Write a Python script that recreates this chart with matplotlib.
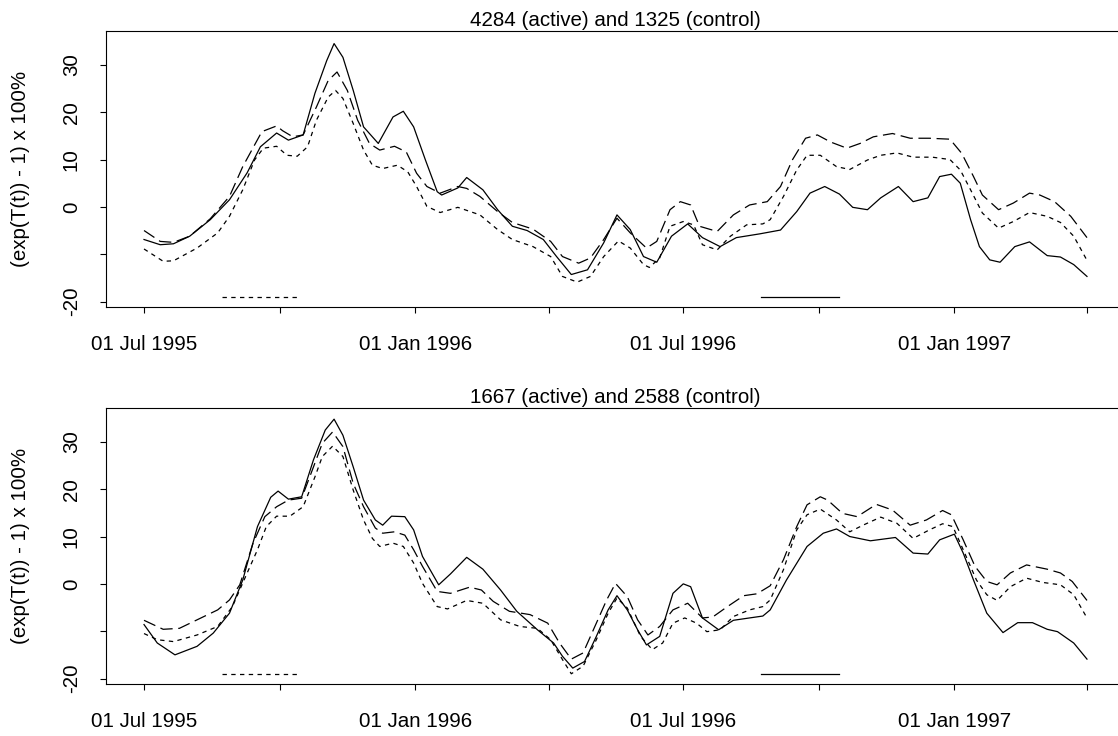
import numpy as np
import matplotlib
matplotlib.use("Agg")
import matplotlib.pyplot as plt

plt.rcParams["font.family"] = ["Liberation Sans", "DejaVu Sans"]
plt.rcParams["font.size"] = 14.8

# time axis: days since 01 Jul 1995
START = np.datetime64("1995-07-01")

panel_titles = ["4284 (active) and 1325 (control)",
                "1667 (active) and 2588 (control)"]
ylabel = "(exp(T(t)) - 1) x 100%"

# ---- top panel --------------------------------------------------------
top_solid_t = [0, 11, 20, 31, 45, 58, 70, 79, 90, 98, 108, 116, 124, 129, 135, 142, 149, 159,
               169, 176, 183, 191, 199, 202, 213, 219, 230, 240, 250, 260, 271, 280, 290, 301,
               312, 321, 330, 339, 348, 358, 369, 379, 391, 402, 418, 432, 443, 452, 462, 472,
               481, 491, 500, 512, 522, 532, 540, 548, 554, 561, 567, 574, 581, 591, 601, 613,
               622, 631, 640]
top_solid_y = [-6.9, -8.0, -7.8, -6.2, -2.7, 1.5, 7.2, 12.7, 15.6, 14.1, 15.2, 24.0, 30.9, 34.5,
               31.6, 24.6, 16.9, 13.4, 19.0, 20.2, 16.9, 9.9, 3.2, 2.5, 4.0, 6.2, 3.6, -0.6, -4.1,
               -5.0, -6.9, -10.5, -14.3, -13.3, -7.6, -1.7, -4.8, -10.5, -11.7, -6.2, -3.6, -6.5,
               -8.4, -6.5, -5.7, -4.9, -1.0, 2.9, 4.3, 2.7, -0.1, -0.6, 1.9, 4.3, 1.1, 1.9, 6.4,
               6.9, 5.0, -2.7, -8.4, -11.2, -11.7, -8.4, -7.4, -10.3, -10.6, -12.2, -14.7]

top_dash_t = [0, 11, 20, 31, 45, 58, 67, 80, 90, 94, 101, 108, 117, 125, 131, 138, 145, 153, 160,
              170, 178, 185, 192, 201, 213, 219, 228, 240, 250, 264, 276, 284, 295, 303, 312, 321,
              330, 341, 348, 357, 364, 371, 377, 389, 400, 411, 423, 432, 440, 449, 457, 466, 477,
              486, 495, 508, 520, 533, 547, 555, 563, 569, 580, 590, 601, 608, 618, 629, 640]
top_dash_y = [-5.0, -7.3, -7.5, -6.2, -2.5, 2.2, 8.5, 15.9, 17.1, 16.1, 14.8, 15.2, 21.1, 26.7,
              28.5, 24.6, 18.3, 13.4, 12.0, 12.8, 11.6, 7.1, 4.3, 2.9, 4.3, 3.9, 2.2, -1.0, -3.3,
              -4.7, -7.3, -10.5, -11.9, -10.8, -6.9, -2.4, -5.5, -8.7, -7.3, -0.6, 1.1, 0.4, -4.1,
              -5.2, -1.7, 0.4, 1.1, 4.3, 9.9, 14.5, 15.2, 13.7, 12.4, 13.4, 14.8, 15.5, 14.5, 14.5,
              14.3, 11.3, 6.4, 2.5, -0.6, 0.8, 2.9, 2.5, 1.1, -2.0, -6.5]

top_dot_t = [0, 13, 20, 36, 50, 58, 67, 75, 81, 90, 97, 104, 111, 117, 125, 130, 135, 142, 149,
             155, 162, 172, 179, 185, 192, 201, 213, 228, 240, 250, 264, 276, 284, 294, 303, 312,
             322, 330, 339, 343, 350, 357, 366, 373, 379, 389, 398, 409, 420, 425, 434, 443, 450,
             459, 470, 479, 491, 500, 511, 522, 535, 547, 554, 561, 569, 580, 590, 601, 613, 622,
             631, 640]
top_dot_y = [-8.9, -11.5, -11.4, -8.7, -5.5, -2.0, 3.6, 9.9, 12.4, 12.8, 10.9, 10.7, 12.7, 18.3,
             23.2, 24.6, 22.9, 17.6, 12.0, 8.8, 8.1, 8.8, 7.4, 4.3, 0.1, -1.2, -0.1, -1.7, -4.8,
             -6.9, -8.4, -10.5, -14.7, -15.9, -14.7, -10.5, -7.2, -8.7, -12.2, -12.8, -10.8, -4.1,
             -3.1, -3.8, -8.0, -9.1, -6.2, -3.8, -3.6, -2.7, 2.2, 7.8, 10.9, 10.9, 8.5, 7.9, 9.9,
             10.9, 11.4, 10.5, 10.5, 10.0, 7.8, 3.6, -1.3, -4.5, -3.1, -1.2, -2.0, -3.3, -6.2, -11.3]

# ---- bottom panel -----------------------------------------------------
bot_solid_t = [0, 9, 21, 36, 47, 58, 67, 77, 86, 91, 98, 107, 115, 123, 129, 135, 142, 149, 157,
               162, 168, 177, 183, 189, 200, 208, 219, 230, 242, 253, 267, 278, 284, 291, 299, 307,
               315, 321, 328, 335, 341, 350, 359, 366, 371, 379, 390, 400, 411, 420, 425, 436, 450,
               461, 470, 479, 493, 510, 522, 532, 540, 550, 556, 563, 572, 583, 593, 603, 613, 620,
               631, 640]
bot_solid_y = [-8.6, -12.5, -15.0, -13.2, -10.4, -6.2, 0.8, 12.1, 18.3, 19.6, 17.9, 18.4, 26.2,
               32.5, 34.8, 31.4, 24.7, 17.7, 13.5, 12.4, 14.3, 14.2, 11.4, 5.8, -0.2, 2.1, 5.6, 3.1,
               -1.3, -5.8, -9.7, -12.5, -15.3, -17.8, -16.4, -11.1, -5.5, -2.5, -5.5, -9.7, -12.9,
               -11.1, -2.0, 0.0, -0.6, -7.2, -9.7, -7.7, -7.2, -6.8, -5.5, 0.8, 7.9, 10.7, 11.6,
               10.0, 9.1, 9.8, 6.5, 6.3, 9.3, 10.5, 6.5, 0.8, -6.2, -10.3, -8.2, -8.2, -9.6, -10.1,
               -12.5, -15.9]

bot_dash_t = [0, 13, 24, 36, 50, 58, 65, 74, 82, 90, 98, 107, 115, 121, 128, 135, 142, 149, 157,
              162, 170, 177, 183, 189, 199, 208, 221, 229, 237, 248, 262, 274, 282, 290, 298, 307,
              314, 320, 328, 335, 342, 350, 359, 369, 379, 386, 396, 407, 416, 425, 434, 443, 450,
              459, 464, 474, 484, 497, 508, 520, 531, 542, 548, 556, 564, 572, 579, 588, 599, 613,
              622, 630, 640]
bot_dash_y = [-7.7, -9.6, -9.4, -7.6, -5.5, -3.4, -0.2, 8.6, 14.2, 16.3, 17.7, 18.1, 24.7, 29.7,
              32.1, 29.0, 21.2, 16.3, 11.8, 10.7, 11.0, 10.3, 7.2, 3.7, -1.6, -2.0, -0.7, -1.3,
              -3.7, -5.8, -6.5, -8.3, -12.5, -15.9, -14.6, -8.3, -3.4, 0.1, -2.7, -7.6, -10.8,
              -9.0, -5.5, -4.1, -7.2, -7.0, -4.8, -2.5, -2.1, -0.4, 5.1, 12.1, 16.7, 18.4, 17.7,
              14.9, 14.2, 16.8, 15.6, 12.4, 13.5, 15.5, 14.6, 9.3, 3.7, 0.5, -0.2, 2.3, 4.0, 3.1,
              2.3, 0.5, -3.5]

bot_dot_t = [0, 9, 20, 36, 50, 60, 70, 77, 83, 90, 99, 108, 116, 121, 128, 135, 142, 149, 155,
             160, 169, 176, 183, 189, 199, 206, 219, 230, 242, 255, 267, 276, 284, 290, 298, 307,
             315, 321, 328, 337, 345, 352, 359, 367, 375, 382, 391, 400, 411, 420, 425, 434, 443,
             450, 459, 470, 479, 488, 500, 511, 522, 533, 542, 549, 556, 565, 572, 579, 588, 599,
             610, 622, 631, 640]
bot_dot_y = [-10.5, -11.8, -12.2, -10.8, -9.0, -4.8, 2.3, 7.2, 12.1, 14.3, 14.3, 16.3, 22.6, 26.9,
             29.1, 26.9, 19.8, 13.5, 9.6, 7.9, 8.6, 7.9, 4.4, 0.1, -4.8, -5.3, -3.5, -4.1, -7.6,
             -9.0, -9.4, -11.8, -16.0, -19.0, -17.4, -11.8, -6.2, -3.0, -5.1, -11.1, -13.9, -12.5,
             -8.3, -7.2, -8.3, -10.1, -9.7, -6.9, -5.5, -4.8, -3.4, 3.0, 11.4, 14.6, 15.8, 13.5,
             11.0, 12.4, 14.1, 12.8, 9.6, 11.4, 12.7, 12.1, 7.2, 0.8, -2.3, -3.5, -0.6, 1.2, 0.3,
             -0.2, -2.3, -7.2]

# reference periods drawn along the bottom of each panel
period_1995 = ("1995-08-23", "1995-10-15")
period_1996 = ("1996-08-23", "1996-10-15")
period_level = -19

tick_dates = ["1995-07-01", "1995-10-01", "1996-01-01", "1996-04-01",
              "1996-07-01", "1996-10-01", "1997-01-01", "1997-04-01"]
tick_labels = ["01 Jul 1995", "", "01 Jan 1996", "", "01 Jul 1996", "", "01 Jan 1997", ""]
ytick_vals = [-20, -10, 0, 10, 20, 30]
ytick_labels = ["-20", "", "0", "10", "20", "30"]


def day(s):
    return (np.datetime64(s) - START).astype(int)


LONGDASH = (0, (10, 4.5))
SHORTDASH = (0, (3.5, 3.5))

panels = [
    (top_solid_t, top_solid_y, top_dash_t, top_dash_y, top_dot_t, top_dot_y),
    (bot_solid_t, bot_solid_y, bot_dash_t, bot_dash_y, bot_dot_t, bot_dot_y),
]

W, H = 1118, 736
fig = plt.figure(figsize=(W / 100, H / 100), dpi=100)

# axes boxes in pixels: left, top, right, bottom (right edge runs past the canvas)
boxes = [(106.3, 31, 1124.7, 307), (106.3, 408, 1124.7, 684)]

for i, (box, data) in enumerate(zip(boxes, panels)):
    l, t, r, b = box
    ax = fig.add_axes([l / W, 1 - b / H, (r - l) / W, (b - t) / H])
    st, sy, dt, dy, ot, oy = data
    ax.plot(st, sy, color="black", lw=0.9, linestyle="-")
    ax.plot(dt, dy, color="black", lw=0.9, linestyle=LONGDASH)
    ax.plot(ot, oy, color="black", lw=0.9, linestyle=SHORTDASH)

    ax.plot([day(period_1995[0]), day(period_1995[1])], [period_level] * 2,
            color="black", lw=0.9, linestyle=SHORTDASH)
    ax.plot([day(period_1996[0]), day(period_1996[1])], [period_level] * 2,
            color="black", lw=0.9, linestyle="-")

    ax.set_xlim(-25.6, 665.6)
    ax.set_ylim(-21.16, 37.16)
    ax.set_xticks([day(d) for d in tick_dates])
    ax.set_xticklabels(tick_labels)
    ax.set_yticks(ytick_vals)
    ax.set_yticklabels(ytick_labels, rotation=90, va="center")
    ax.tick_params(axis="both", direction="out", length=4.3, width=0.8, color="black")
    ax.tick_params(axis="x", pad=16)
    ax.tick_params(axis="y", pad=14)
    for sp in ax.spines.values():
        sp.set_linewidth(0.8)
        sp.set_color("black")

    fig.text((l + r) / 2 / W, 1 - (t - 5) / H, panel_titles[i],
             ha="center", va="baseline", fontsize=14.8)
    fig.text(21 / W, 1 - (t + b) / 2 / H, ylabel, rotation=90,
             ha="center", va="center", fontsize=14.8)

fig.savefig("out.png", dpi=100)
